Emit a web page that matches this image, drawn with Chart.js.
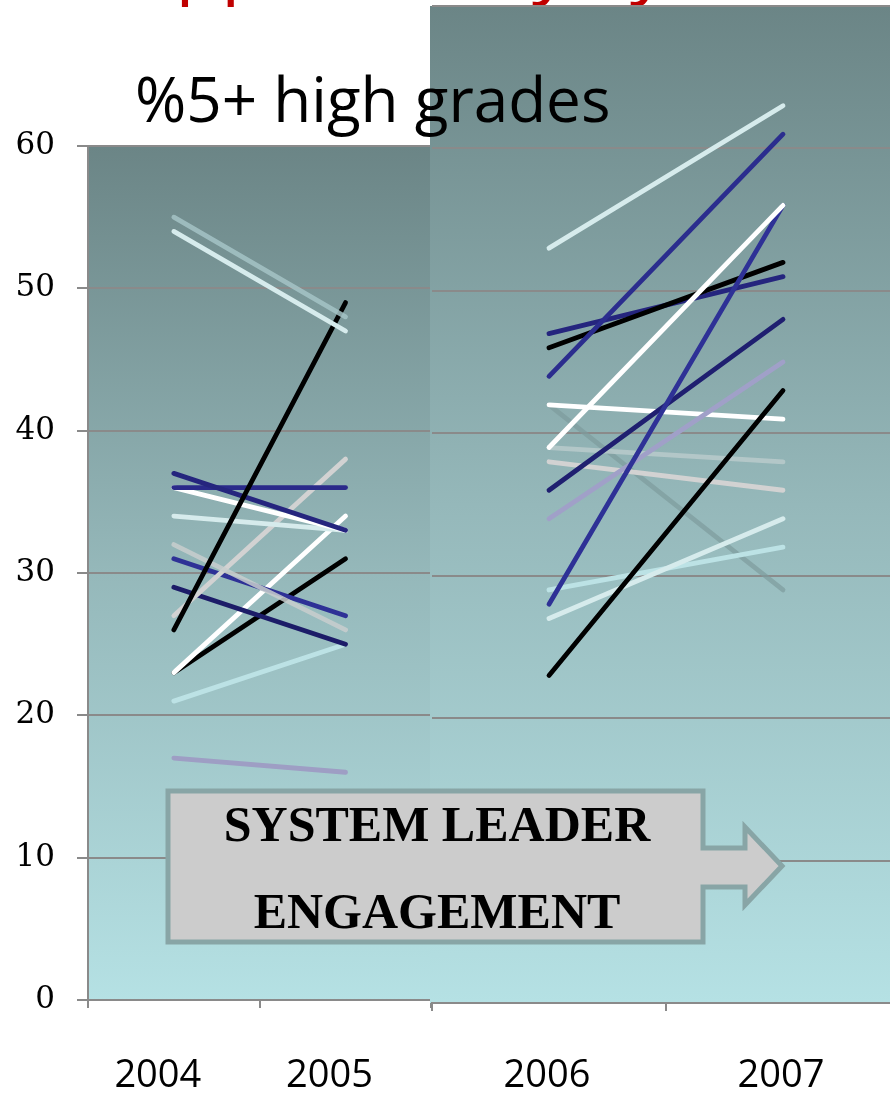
<!DOCTYPE html>
<html>
<head>
<meta charset="utf-8">
<script src="https://cdn.jsdelivr.net/npm/chart.js@4.4.1/dist/chart.umd.min.js"></script>
<style>
  html, body { margin: 0; padding: 0; background: #fff; width: 890px; height: 1094px; overflow: hidden; position: relative; }
  #red { position: absolute; left: 128px; top: -77px; font: 75px 'Open Sans'; line-height: 75px; color: #c00000; white-space: nowrap; }
  #leftCanvas { position: absolute; left: 0; top: 0; }
  #rightCanvas { position: absolute; left: 430px; top: 0; }
  #title { position: absolute; left: 135px; top: 67px; font: 62px 'Open Sans'; line-height: 62px; white-space: nowrap; color: #000; }
  #arrow { position: absolute; left: 0; top: 0; }
  .box { position: absolute; left: 168px; width: 538px; text-align: center; font: bold 50px 'Liberation Serif'; line-height: 50px; color: #000; white-space: nowrap; }
</style>
</head>
<body>
<div id="red">Approach by System</div>
<canvas id="leftCanvas" width="434" height="1094"></canvas>
<canvas id="rightCanvas" width="472" height="1094"></canvas>
<div id="title">%5+ high grades</div>
<svg id="arrow" width="890" height="1094">
  <polygon points="168,791 703,791 703,848 745,848 745,827 782,866 745,905 745,887 703,887 703,942 168,942"
           fill="#cccccc" stroke="#88a5a6" stroke-width="5" stroke-linejoin="miter"/>
</svg>
<div class="box" style="top:799px">SYSTEM LEADER</div>
<div class="box" style="top:886px">ENGAGEMENT</div>

<script>
// categories
const leftYears = ['2004', '2005'];
const rightYears = ['2006', '2007'];

// % of pupils with 5+ high grades, one line per school
const left2004 = [55, 54, 26, 37, 36, 36, 34, 32, 27, 31, 29, 23, 23, 21, 17];
const left2005 = [48, 47, 49, 33, 36, 33, 33, 26, 38, 27, 25, 34, 31, 25, 16];
const right2006 = [53, 44, 39, 28, 46, 47, 36, 34, 23, 42, 39, 38, 27, 29, 42];
const right2007 = [63, 61, 56, 56, 52, 51, 48, 45, 43, 41, 38, 36, 34, 32, 29];

const leftColors = ['rgba(165,195,197,0.85)', '#d6ebec', '#000000', '#25257e', '#2a2a8a',
  '#ffffff', '#d6ebec', 'rgba(200,206,206,0.85)', '#d2d2d2', '#2e3196',
  '#1c1c68', '#ffffff', '#000000', '#bce2e5', '#9e9ec4'];
const rightColors = ['#d6ebec', '#2b2d8e', '#ffffff', '#2e3196', '#000000',
  '#25257e', '#1f1f70', '#a0a0c8', '#000000', '#ffffff',
  'rgba(185,202,203,0.85)', '#d2d2d2', '#d6ebec', '#bce2e5', 'rgba(125,155,157,0.7)'];

const gridGray = '#8a8a8a';

const panelBg = {
  id: 'panelBg',
  beforeDraw(chart, args, opts) {
    const { ctx, chartArea: a } = chart;
    const x0 = opts.fromEdge ? 0 : a.left;
    const g = ctx.createLinearGradient(0, a.top, 0, a.bottom);
    g.addColorStop(0, '#6b8586');
    g.addColorStop(0.5, '#95b8ba');
    g.addColorStop(1, '#b5e1e4');
    ctx.save();
    ctx.fillStyle = g;
    ctx.fillRect(x0, a.top, chart.width - x0, a.bottom - a.top);
    ctx.restore();
  }
};

function makeSets(starts, ends, colors) {
  return starts.map((s, i) => ({
    data: [s, ends[i]],
    borderColor: colors[i],
    borderWidth: 4.8,
    borderCapStyle: 'round',
    pointRadius: 0,
    fill: false,
    tension: 0
  }));
}

new Chart(document.getElementById('leftCanvas'), {
  type: 'line',
  data: { labels: leftYears, datasets: makeSets(left2004, left2005, leftColors) },
  plugins: [panelBg],
  options: {
    responsive: false,
    animation: false,
    layout: { padding: { top: 146, left: 0, right: 0, bottom: 0 } },
    plugins: { legend: { display: false }, tooltip: { enabled: false }, panelBg: { fromEdge: false } },
    scales: {
      x: {
        offset: true,
        grid: { offset: true, drawOnChartArea: false, drawTicks: true, tickLength: 8, color: gridGray, lineWidth: 2 },
        border: { display: true, color: gridGray, width: 2 },
        ticks: { color: '#000', font: { family: 'Open Sans', size: 38 }, padding: 45, labelOffset: -16, maxRotation: 0 },
        afterFit: s => { s.height = 94; }
      },
      y: {
        min: 0, max: 60,
        ticks: { stepSize: 10, color: '#000', font: { family: 'DejaVu Serif', size: 31 }, padding: 22 },
        grid: { color: gridGray, lineWidth: 2, tickLength: 11 },
        border: { display: true, color: gridGray, width: 2 },
        afterFit: s => { s.width = 88; }
      }
    }
  }
});

new Chart(document.getElementById('rightCanvas'), {
  type: 'line',
  data: { labels: rightYears, datasets: makeSets(right2006, right2007, rightColors) },
  plugins: [panelBg],
  options: {
    responsive: false,
    animation: false,
    layout: { padding: { top: 6, left: 0, right: 2, bottom: 0 } },
    plugins: { legend: { display: false }, tooltip: { enabled: false }, panelBg: { fromEdge: true } },
    scales: {
      x: {
        offset: true,
        grid: { offset: true, drawOnChartArea: false, drawTicks: true, tickLength: 8, color: gridGray, lineWidth: 2 },
        border: { display: true, color: gridGray, width: 2 },
        ticks: { color: '#000', font: { family: 'Open Sans', size: 38 }, padding: 42, labelOffset: -2, maxRotation: 0 },
        afterFit: s => { s.height = 91; }
      },
      y: {
        min: 0, max: 70,
        ticks: { stepSize: 10, display: false },
        grid: { color: gridGray, lineWidth: 2, drawTicks: false },
        border: { display: false },
        afterFit: s => { s.width = 2; }
      }
    }
  }
});
</script>
</body>
</html>
